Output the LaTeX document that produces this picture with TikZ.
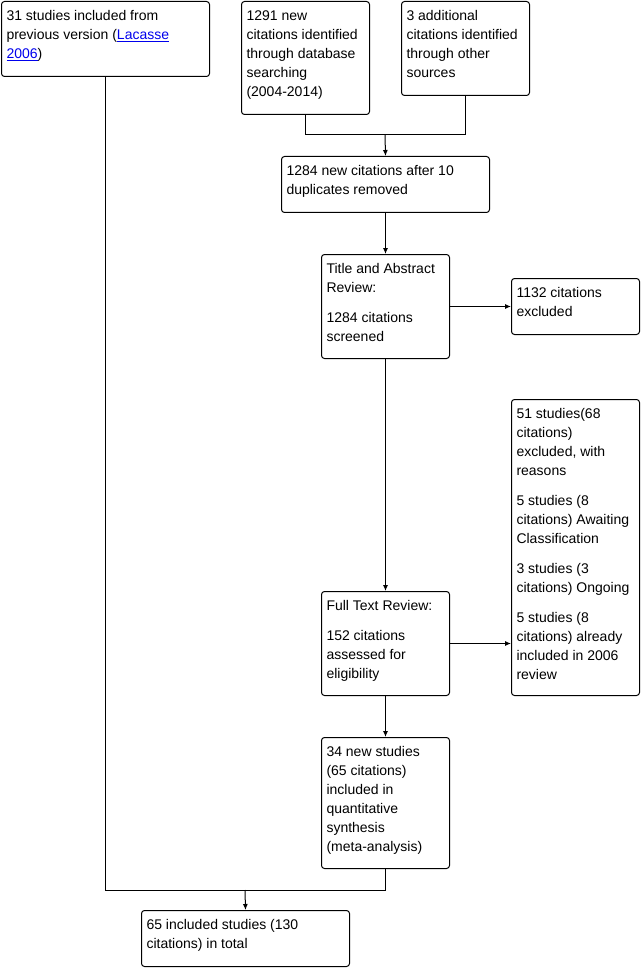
\documentclass[tikz,border=0pt]{standalone}
\usepackage{fontspec}
\setmainfont{Liberation Sans}
\usetikzlibrary{arrows.meta}
\definecolor{linkblue}{rgb}{0,0,0.93}
\newcommand{\bxt}[3]{\parbox[t][#2pt][t]{#1pt}{\raggedright\rule{0pt}{14pt}#3}}
\newcommand{\lnk}[1]{\textcolor{linkblue}{\underline{#1}}}
\begin{document}
\begin{tikzpicture}[x=1pt,y=1pt,
  flowbox/.style={draw=black, line width=1pt, rounded corners=3pt, anchor=north west,
    inner xsep=5pt, inner ysep=5pt, font=\fontsize{14}{19}\selectfont, fill=white},
  conn/.style={draw=black, line width=1pt},
  arr/.style={conn, -{Latex[length=6pt,width=5pt]}}]
\useasboundingbox (0,0) rectangle (642,-968);
\node[flowbox] (b1) at (1,-1) {\bxt{198}{65}{31 studies included from\\previous version (\lnk{Lacasse}\\\lnk{2006})}};
\node[flowbox] (b2) at (241,-1) {\bxt{118}{103}{1291 new\\citations identified\\through database\\searching\\(2004-2014)}};
\node[flowbox] (b3) at (401,-1) {\bxt{118}{84}{3 additional\\citations identified\\through other\\sources}};
\node[flowbox] (b4) at (281,-156) {\bxt{198}{46}{1284 new citations after 10\\duplicates removed}};
\node[flowbox] (b5) at (321,-254) {\bxt{118}{94}{Title and Abstract\\Review:\\[11pt]1284 citations\\screened}};
\node[flowbox] (b6) at (511,-278) {\bxt{118}{46}{1132 citations\\excluded}};
\node[flowbox] (b7) at (511,-399) {\bxt{118}{286}{51 studies(68\\citations)\\excluded, with\\reasons\\[11pt]5 studies (8\\citations) Awaiting\\Classification\\[11pt]3 studies (3\\citations) Ongoing\\[11pt]5 studies (8\\citations) already\\included in 2006\\review}};
\node[flowbox] (b8) at (321,-591) {\bxt{118}{94}{Full Text Review:\\[11pt]152 citations\\assessed for\\eligibility}};
\node[flowbox] (b9) at (321,-737) {\bxt{118}{121}{34 new studies\\(65 citations)\\included in\\quantitative\\synthesis\\(meta-analysis)}};
\node[flowbox] (b10) at (141,-910) {\bxt{198}{46}{65 included studies (130\\citations) in total}};
\coordinate (j1) at (385,-135);
\coordinate (j2) at (245,-890);
\draw[conn] (b2.south) |- (j1);
\draw[conn] (b3.south) |- (j1);
\draw[arr] (j1) -- (b4.north);
\draw[arr] (b4.south) -- (b5.north);
\draw[arr] (b5.east) -- (b6.west);
\draw[arr] (b5.south) -- (b8.north);
\draw[arr] (b8.east) -- (b8.east -| b7.west);
\draw[arr] (b8.south) -- (b9.north);
\draw[conn] (b1.south) |- (j2);
\draw[conn] (b9.south) |- (j2);
\draw[arr] (j2) -- (b10.north);
\end{tikzpicture}
\end{document}
